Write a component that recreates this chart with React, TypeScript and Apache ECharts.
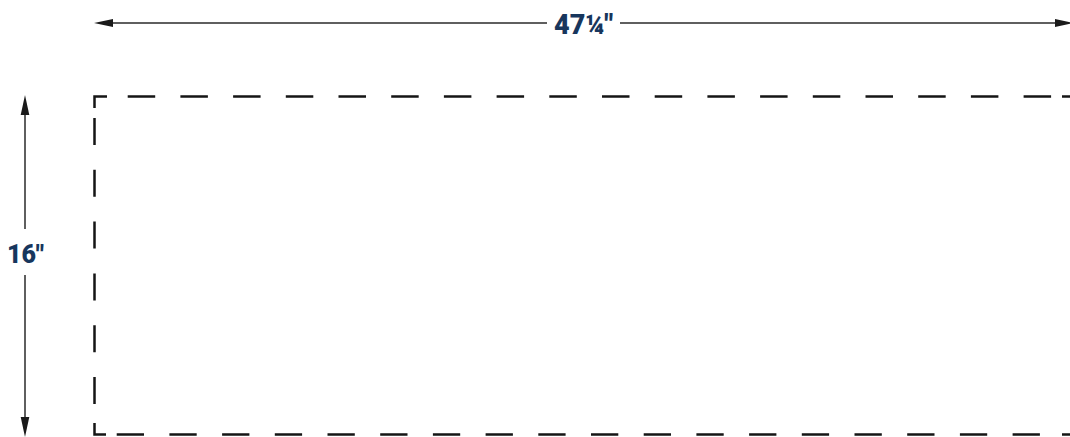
import React, { useEffect, useRef } from "react";
import * as echarts from "echarts";

// Dimension labels of the diagram
const widthLabels: string[] = ['47¼"'];
const heightLabels: string[] = ['16"'];

const LABEL_COLOR = "#17365d";
const ARROW_COLOR = "#2a2a2a";
const DASH_COLOR = "#151515";

export default function App() {
  const ref = useRef<HTMLDivElement>(null);

  useEffect(() => {
    if (!ref.current) return;
    const chart = echarts.init(ref.current, null, { renderer: "svg" });

    const arrowLine = (x1: number, y1: number, x2: number, y2: number) => ({
      type: "line",
      shape: { x1, y1, x2, y2 },
      style: { stroke: ARROW_COLOR, lineWidth: 1.5 },
    });
    const head = (pts: number[][]) => ({
      type: "polygon",
      shape: { points: pts },
      style: { fill: "#1a1a1a" },
    });
    const dashLine = (x1: number, y1: number, x2: number, y2: number, dash: number[]) => ({
      type: "line",
      shape: { x1, y1, x2, y2 },
      style: { stroke: DASH_COLOR, lineWidth: 2.5, lineDash: dash },
    });
    const solid = (pts: number[][]) => ({
      type: "polyline",
      shape: { points: pts },
      style: { stroke: DASH_COLOR, lineWidth: 2.5, fill: null },
    });
    const label = (text: string, x: number, y: number, size: number) => ({
      type: "text",
      x,
      y,
      style: {
        text,
        fill: LABEL_COLOR,
        fontSize: size,
        fontWeight: 900,
        fontFamily: "Roboto",
        align: "center",
        verticalAlign: "middle",
      },
    });

    chart.setOption({
      animation: false,
      graphic: [
        // width dimension
        arrowLine(100, 23, 547, 23),
        arrowLine(620, 23, 1066, 23),
        head([[94, 23], [113, 19], [113, 27]]),
        head([[1074, 23], [1055, 19], [1055, 27]]),
        label(widthLabels[0], 583.5, 25, 27),
        // height dimension
        arrowLine(25, 105, 25, 229),
        arrowLine(25, 275, 25, 428),
        head([[25, 95], [20.7, 115], [29.3, 115]]),
        head([[25, 437], [20.7, 417], [29.3, 417]]),
        label(heightLabels[0], 25.5, 254, 25),
        // dashed outline
        solid([[94.5, 108], [94.5, 96.5], [107, 96.5]]),
        dashLine(127.7, 96.5, 1052, 96.5, [27.5, 25.2]),
        dashLine(1062, 96.5, 1072, 96.5, []),
        dashLine(94.5, 118, 94.5, 405, [27, 24.8]),
        solid([[94.5, 423], [94.5, 434.5], [106, 434.5]]),
        dashLine(116.7, 434.5, 1041, 434.5, [27.3, 25.4]),
        dashLine(1062, 434.5, 1072, 434.5, []),
      ],
    });

    return () => chart.dispose();
  }, []);

  return (
    <div
      ref={ref}
      style={{ position: "fixed", left: 0, top: 0, width: 1070, height: 437, background: "#fff" }}
    />
  );
}
